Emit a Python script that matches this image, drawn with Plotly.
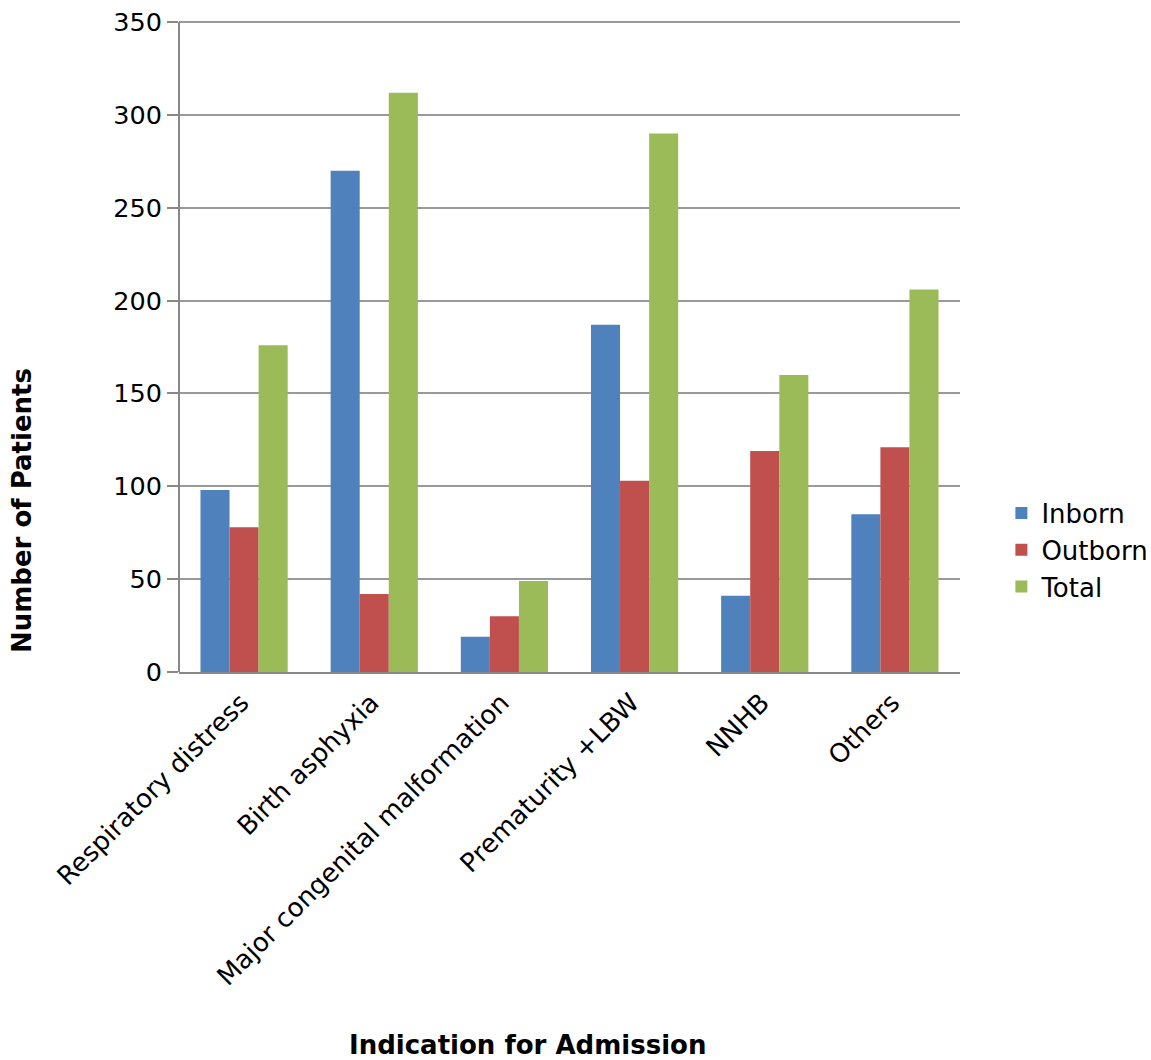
import plotly.graph_objects as go

categories = ["Respiratory distress", "Birth asphyxia", "Major congenital malformation",
              "Prematurity +LBW", "NNHB", "Others"]
inborn = [98, 270, 19, 187, 41, 85]
outborn = [78, 42, 30, 103, 119, 121]
total = [176, 312, 49, 290, 160, 206]
y_ticks = [0, 50, 100, 150, 200, 250, 300, 350]

colors = {"Inborn": "#4F81BD", "Outborn": "#C0504D", "Total": "#9BBB59"}

fig = go.Figure()
for name, vals in [("Inborn", inborn), ("Outborn", outborn), ("Total", total)]:
    fig.add_trace(go.Bar(x=categories, y=vals, name=name, marker_color=colors[name],
                         marker_line_width=0))

font = "DejaVu Sans"
fs = 26
fig.update_layout(
    width=1151, height=1060,
    margin=dict(l=179, r=191, t=18, b=388, autoexpand=False),
    plot_bgcolor="white", paper_bgcolor="white",
    font=dict(family=font, size=fs, color="black"),
    barmode="group", bargap=0.33, bargroupgap=0,
    legend=dict(x=1.053, y=(672 - 550) / 654, xanchor="left", yanchor="middle",
                font=dict(size=fs), itemwidth=30, tracegroupgap=0),
    xaxis=dict(tickangle=-45, showline=True, linecolor="#888888", linewidth=2,
               ticks="", tickfont=dict(size=fs), ticklabelstandoff=3, ticklabelshift=-3),
    yaxis=dict(range=[0, 352.2], tickvals=y_ticks,
               showgrid=True, gridcolor="#999999", gridwidth=1.5,
               showline=False,
               ticks="outside", ticklen=11, tickcolor="#888888", tickwidth=2,
               tickfont=dict(size=25.5), zeroline=False),
    shapes=[dict(type="line", xref="paper", yref="y", x0=0, x1=0,
                 y0=y_ticks[0], y1=y_ticks[-1], line=dict(color="#888888", width=2))],
    annotations=[
        dict(text="<b>Indication for Admission</b>", xref="paper", yref="paper",
             x=(527 - 179) / 781, y=(672 - 1045) / 654, xanchor="center", yanchor="middle",
             showarrow=False, font=dict(size=fs)),
        dict(text="<b>Number of Patients</b>", xref="paper", yref="paper",
             x=(22 - 179) / 781, y=(672 - 511) / 654, xanchor="center", yanchor="middle",
             textangle=-90, showarrow=False, font=dict(size=fs)),
    ],
)
fig.write_html("out.html")
